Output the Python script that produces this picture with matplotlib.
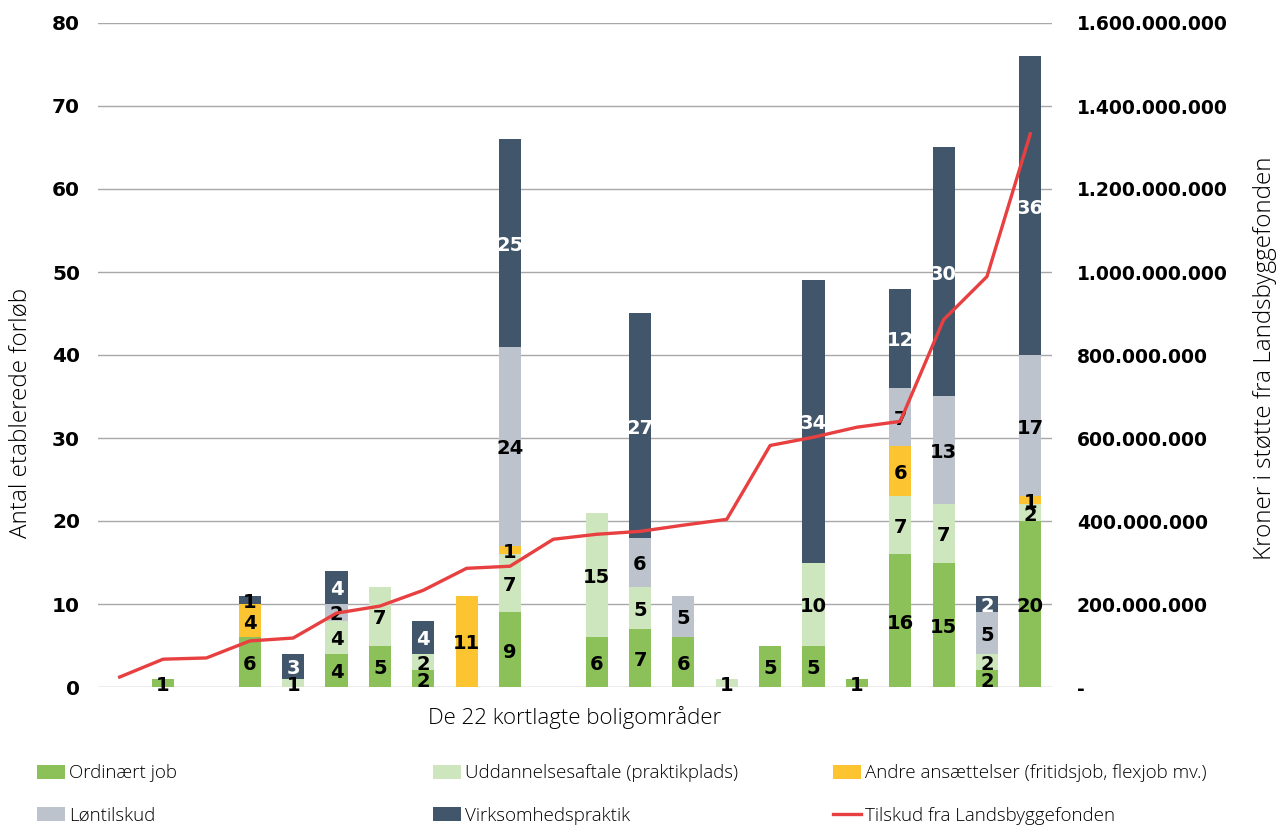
import matplotlib
matplotlib.use("Agg")
import matplotlib.pyplot as plt
import numpy as np
from matplotlib import font_manager
from matplotlib.ticker import FuncFormatter, MultipleLocator

# 22 boligomraader, sorteret efter tilskud
omraader = list(range(22))
ordinaert = [0, 1, 0, 6, 0, 4, 5, 2, 0, 9, 0, 6, 7, 6, 0, 5, 5, 1, 16, 15, 2, 20]
uddannelse = [0, 0, 0, 0, 1, 4, 7, 2, 0, 7, 0, 15, 5, 0, 1, 0, 10, 0, 7, 7, 2, 2]
andre = [0, 0, 0, 4, 0, 0, 0, 0, 11, 1, 0, 0, 0, 0, 0, 0, 0, 0, 6, 0, 0, 1]
loentilskud = [0, 0, 0, 0, 0, 2, 0, 0, 0, 24, 0, 0, 6, 5, 0, 0, 0, 0, 7, 13, 5, 17]
virksomhed = [0, 0, 0, 1, 3, 4, 0, 4, 0, 25, 0, 0, 27, 0, 0, 0, 34, 0, 12, 30, 2, 36]
tilskud = [24e6, 67e6, 70e6, 111e6, 118e6, 178e6, 195e6, 233e6, 286e6, 291e6,
           356e6, 368e6, 375e6, 390e6, 404e6, 582e6, 602e6, 626e6, 640e6,
           885e6, 989e6, 1333e6]

serier = [
    ("Ordinært job", ordinaert, "#8BC158"),
    ("Uddannelsesaftale (praktikplads)", uddannelse, "#CEE6BE"),
    ("Andre ansættelser (fritidsjob, flexjob mv.)", andre, "#FBC430"),
    ("Løntilskud", loentilskud, "#BDC3CC"),
    ("Virksomhedspraktik", virksomhed, "#42566B"),
]
linje_navn = "Tilskud fra Landsbyggefonden"
linje_farve = "#E84040"

# look for a light (preferably condensed) font for the thin texts
light_font, light_weight = "DejaVu Sans", "normal"
fonts = font_manager.fontManager.ttflist
found = False
for cond in (True, False):
    for fam in ["Roboto", "Open Sans", "Lato", "Inter", "Noto Sans"]:
        for f in fonts:
            w = f.weight if isinstance(f.weight, int) else 400
            if f.name == fam and w <= 300 and f.style == "normal" and \
                    (not cond or "condensed" in str(f.stretch)):
                light_font, light_weight = fam, w
                found = True
                break
        if found:
            break
    if found:
        break
bold_font = "DejaVu Sans"
light_prop = {"family": light_font, "weight": light_weight, "size": 13.5}

fig = plt.figure(figsize=(12.82, 8.30), dpi=100)
ax = fig.add_axes([98 / 1282, 143 / 830, 954 / 1282, 664 / 830])

x = np.arange(len(omraader))
bund = np.zeros(len(omraader))
handles = []
for navn, vals, farve in serier:
    vals = np.array(vals, dtype=float)
    b = ax.bar(x, vals, width=0.51, bottom=bund, color=farve, label=navn,
               zorder=2)
    handles.append(b)
    for i, v in enumerate(vals):
        if v == 0:
            continue
        tcol = "black"
        if navn == "Virksomhedspraktik" and v > 1:
            tcol = "white"
        ax.text(x[i], bund[i] + v / 2 - 0.3, "%d" % v, ha="center", va="center",
                fontsize=14, fontweight="bold", family=bold_font, color=tcol,
                zorder=5)
    bund = bund + vals

ax.set_xlim(-0.5, 21.5)
ax.set_ylim(0, 80)
ax.yaxis.set_major_locator(MultipleLocator(10))
ax.grid(axis="y", color="#A8A8A8", linewidth=1, zorder=0)
ax.set_axisbelow(True)
for s in ax.spines.values():
    s.set_visible(False)
ax.set_xticks([])
ax.tick_params(axis="y", length=0, pad=13)
for t in ax.get_yticklabels():
    t.set_fontsize(14.5)
    t.set_fontweight("bold")
    t.set_family(bold_font)

ax2 = ax.twinx()
ax2.set_ylim(0, 1.6e9)
ax2.yaxis.set_major_locator(MultipleLocator(2e8))
l, = ax2.plot(x, tilskud, color=linje_farve, linewidth=2.4, label=linje_navn,
              zorder=4)
for s in ax2.spines.values():
    s.set_visible(False)
ax2.tick_params(axis="y", length=0, pad=18)


def kr_fmt(v, pos):
    if v == 0:
        return "-"
    return "{:,.0f}".format(v).replace(",", ".")


ax2.yaxis.set_major_formatter(FuncFormatter(kr_fmt))
for t in ax2.get_yticklabels():
    t.set_fontsize(13.5)
    t.set_fontweight("bold")
    t.set_family(bold_font)

# axis titles
fig.text(21 / 1282, 1 - 413 / 830, "Antal etablerede forløb", rotation=90,
         ha="center", va="center", fontsize=17.5, family=light_font,
         weight=light_weight)
fig.text(1265 / 1282, 1 - 358 / 830, "Kroner i støtte fra Landsbyggefonden",
         rotation=90, ha="center", va="center", fontsize=17.5, family=light_font,
         weight=light_weight)
fig.text(575 / 1282, 1 - 718 / 830, "De 22 kortlagte boligområder",
         ha="center", va="center", fontsize=16, family=light_font,
         weight=light_weight)

# legend, three columns laid out by hand
kolonner = [([handles[0], handles[3]], 37),
            ([handles[1], handles[4]], 433),
            ([handles[2], l], 833)]
for hs, xpix in kolonner:
    fig.legend(hs, [h.get_label() for h in hs], loc="center left",
               bbox_to_anchor=(xpix / 1282, 1 - 794.5 / 830), frameon=False,
               borderpad=0, borderaxespad=0, handlelength=1.5,
               handleheight=0.75, handletextpad=0.2, labelspacing=1.3,
               prop=light_prop)

fig.savefig("out.png", dpi=100)
